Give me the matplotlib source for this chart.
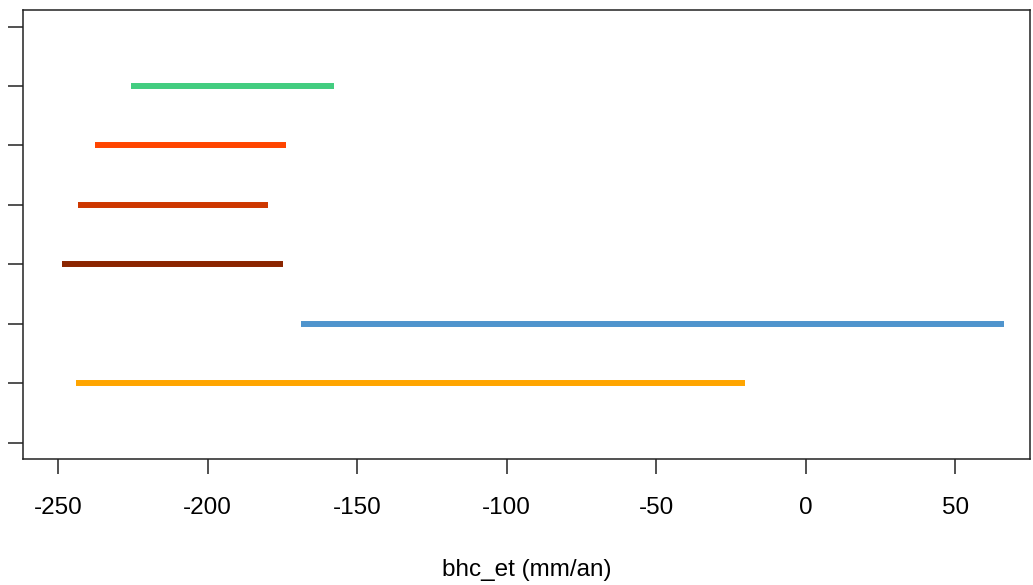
import matplotlib
matplotlib.use("Agg")
import matplotlib.pyplot as plt

# segments: row position, start, end
rows = [2, 3, 4, 5, 6, 7]
starts = [-244.0, -168.6, -248.7, -243.3, -237.7, -225.6]
ends = [-20.4, 66.3, -174.6, -179.9, -173.9, -157.6]
colors = ["#FFA500", "#4F94CD", "#8B2500", "#CD3700", "#FF4500", "#43CD80"]
yticks = [1, 2, 3, 4, 5, 6, 7, 8]
xticks = [-250, -200, -150, -100, -50, 0, 50]

plt.rcParams['font.family'] = ['Liberation Sans', 'DejaVu Sans']

fig = plt.figure(figsize=(10.33, 5.85), dpi=100)
ax = fig.add_axes([0.0223, 0.2149, 0.9747, 0.7681])

for y, a, b, c in zip(rows, starts, ends, colors):
    ax.plot([a, b], [y, y], color=c, lw=4.3, solid_capstyle='butt')

ax.set_xlim(-261.7, 75.0)
ax.set_ylim(0.72, 8.28)
ax.set_xticks(xticks)
ax.set_xticklabels([str(v) for v in xticks], fontsize=17.5)
ax.set_yticks(yticks)
ax.set_yticklabels([])
ax.tick_params(axis='both', length=11, width=1.1, color='#222222')
ax.tick_params(axis='x', pad=16)
for s in ax.spines.values():
    s.set_linewidth(1.1)
    s.set_color('#222222')
ax.set_xlabel('bhc_et (mm/an)', fontsize=17.5, labelpad=29)

fig.savefig('out.png', dpi=100)
